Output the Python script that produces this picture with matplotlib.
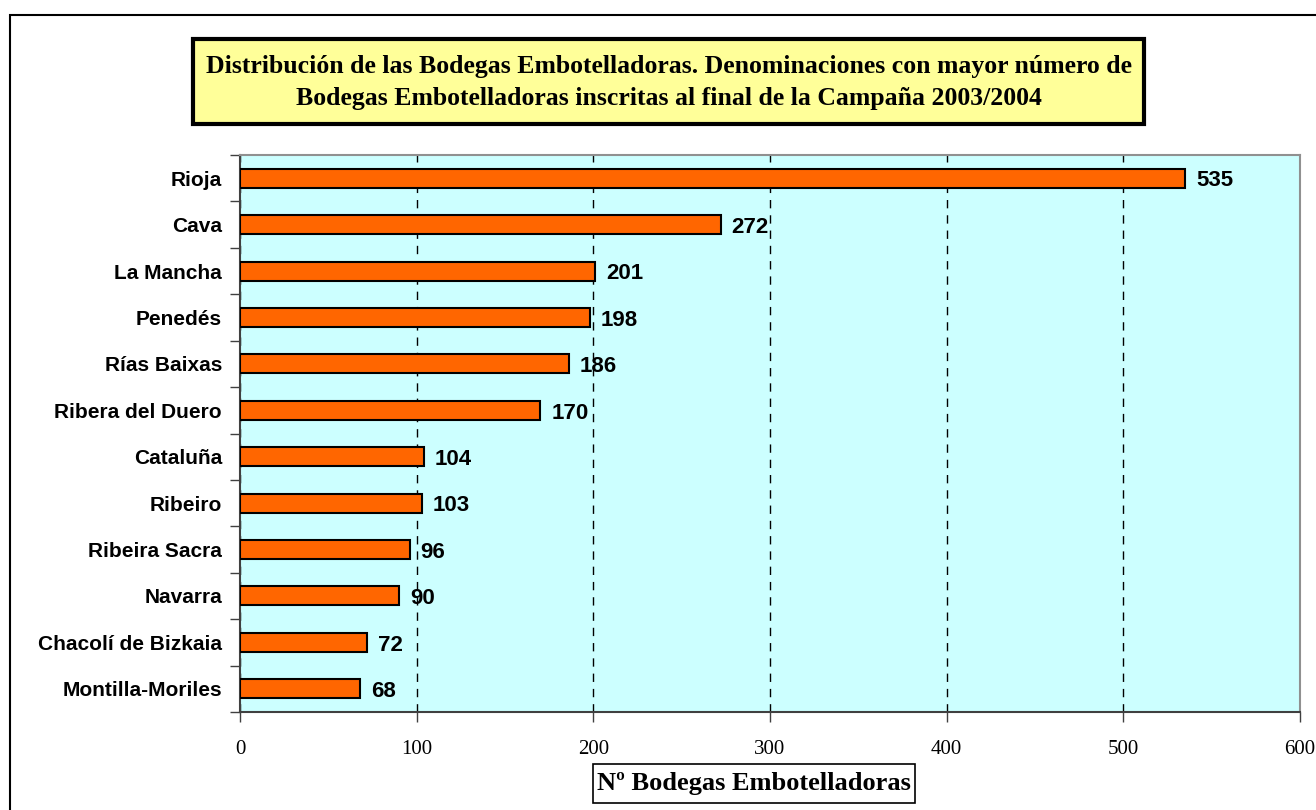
import matplotlib.pyplot as plt
from matplotlib.patches import Rectangle

denominaciones = ['Rioja', 'Cava', 'La Mancha', 'Penedés', 'Rías Baixas', 'Ribera del Duero',
                  'Cataluña', 'Ribeiro', 'Ribeira Sacra', 'Navarra', 'Chacolí de Bizkaia',
                  'Montilla-Moriles']
bodegas = [535, 272, 201, 198, 186, 170, 104, 103, 96, 90, 72, 68]
ticks_x = [0, 100, 200, 300, 400, 500, 600]

titulo = ('Distribución de las Bodegas Embotelladoras. Denominaciones con mayor número de\n'
          'Bodegas Embotelladoras inscritas al final de la Campaña 2003/2004')
etiqueta_x = 'Nº Bodegas Embotelladoras'

W, H = 1316, 810
fig = plt.figure(figsize=(W / 100, H / 100), dpi=100)

def caja(x0, y0, x1, y1, **kw):
    # coordenadas en pixeles de la imagen (origen arriba a la izquierda)
    return Rectangle((x0 / W, 1 - y1 / H), (x1 - x0) / W, (y1 - y0) / H,
                     transform=fig.transFigure, **kw)

# marco exterior
fig.patches.append(caja(10, 15, 1330, 830, fill=False, edgecolor='black', linewidth=1.5))

ax = fig.add_axes([240 / W, 1 - 712 / H, 1060 / W, 557 / H])
ax.set_facecolor('#CCFFFF')

n = len(denominaciones)
pos = list(range(n - 1, -1, -1))
ax.barh(pos, bodegas, height=0.41, color='#FF6600', edgecolor='black', linewidth=1.5, zorder=3)
for p, v in zip(pos, bodegas):
    ax.annotate(str(v), (v, p), xytext=(8, -2), textcoords='offset points', va='center',
                ha='left', fontsize=16, fontweight='bold', family='Liberation Sans', zorder=4)

ax.set_xlim(0, 600)
ax.set_ylim(-0.5, n - 0.5)
ax.set_xticks(ticks_x)
ax.set_xticklabels([str(t) for t in ticks_x], family='Liberation Serif', fontsize=15)
ax.tick_params(axis='x', direction='out', length=7, width=1, color='#404040', pad=13)
ax.set_yticks(pos)
ax.set_yticklabels(denominaciones, family='Liberation Sans', fontweight='bold', fontsize=15)
ax.tick_params(axis='y', which='major', length=0, pad=13)
ax.set_yticks([i - 0.5 for i in range(n + 1)], minor=True)
ax.tick_params(axis='y', which='minor', direction='out', length=7, width=1, color='#404040')

ax.grid(axis='x', linestyle=(0, (6, 5)), color='black', linewidth=1, zorder=1)
for s in ['left', 'bottom']:
    ax.spines[s].set_color('#404040')
    ax.spines[s].set_linewidth(1.5)
for s in ['top', 'right']:
    ax.spines[s].set_color('#909090')
    ax.spines[s].set_linewidth(1.5)

# caja del titulo
fig.patches.append(caja(193, 39, 1144, 124, facecolor='#FFFF99', edgecolor='black', linewidth=3))
fig.text(668.5 / W, 1 - 82.5 / H, titulo, ha='center', va='center', family='Liberation Serif',
         fontweight='bold', fontsize=18.5, linespacing=1.45)

# caja de la etiqueta del eje x
fig.patches.append(caja(593, 764, 915, 803, facecolor='white', edgecolor='black', linewidth=1.2))
fig.text(754 / W, 1 - 783.5 / H, etiqueta_x, ha='center', va='center', family='Liberation Serif',
         fontweight='bold', fontsize=19)

fig.savefig('out.png', dpi=100)
